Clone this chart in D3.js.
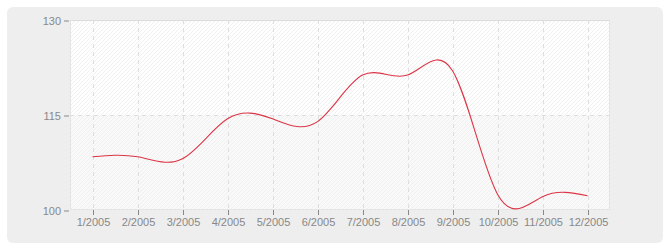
<!DOCTYPE html>
<html>
<head>
<meta charset="utf-8">
<script src="https://cdn.jsdelivr.net/npm/d3@7"></script>
<style>
    body { margin: 0; background: #fff; }
    .tick text { font-family: "Liberation Sans", Arial, sans-serif; font-size: 11px; }
</style>
</head>
<body>
<svg id="chart"></svg>
<script>
// months shown on the x axis
var months = ['1/2005', '2/2005', '3/2005', '4/2005', '5/2005', '6/2005',
    '7/2005', '8/2005', '9/2005', '10/2005', '11/2005', '12/2005'];

// monthly values
var values = [108.4, 108.4, 108.1, 114.4, 114.4, 113.95,
    121.3, 121.3, 122.0, 102.5, 102.1, 102.25];

// y axis ticks
var yTicks = [100, 115, 130];

var width = 670,
    height = 250;

var plot = { left: 70, right: 610, top: 20, bottom: 210 };

var svg = d3.select('#chart')
    .attr('width', width)
    .attr('height', height);

var defs = svg.append('defs');

// diagonal hatch used in the plot area
var hatch = defs.append('pattern')
    .attr('id', 'hatch')
    .attr('patternUnits', 'userSpaceOnUse')
    .attr('width', 4)
    .attr('height', 4);

hatch.append('path')
    .attr('d', 'M-1,1 l2,-2 M0,4 l4,-4 M3,5 l2,-2')
    .attr('stroke', '#f0f0f0')
    .attr('stroke-width', 1);

var x = d3.scalePoint()
    .domain(months)
    .range([plot.left, plot.right])
    .padding(0.5);

var y = d3.scaleLinear()
    .domain([yTicks[0], yTicks[yTicks.length - 1]])
    .range([plot.bottom, plot.top]);

// outer background
svg.append('rect')
    .attr('x', 7)
    .attr('y', 7)
    .attr('width', 656)
    .attr('height', 236)
    .attr('rx', 6)
    .attr('fill', '#eeeeee');

// plot background, alternate bands
svg.append('rect')
    .attr('x', plot.left)
    .attr('y', plot.top)
    .attr('width', plot.right - plot.left)
    .attr('height', plot.bottom - plot.top)
    .attr('fill', '#ffffff');

svg.append('rect')
    .attr('x', plot.left)
    .attr('y', y(yTicks[1]))
    .attr('width', plot.right - plot.left)
    .attr('height', y(yTicks[0]) - y(yTicks[1]))
    .attr('fill', '#f9f9f9');

svg.append('rect')
    .attr('x', plot.left)
    .attr('y', plot.top)
    .attr('width', plot.right - plot.left)
    .attr('height', plot.bottom - plot.top)
    .attr('fill', 'url(#hatch)');

// plot border
svg.append('rect')
    .attr('x', plot.left + 0.5)
    .attr('y', plot.top + 0.5)
    .attr('width', plot.right - plot.left - 1)
    .attr('height', plot.bottom - plot.top - 1)
    .attr('fill', 'none')
    .attr('stroke', '#e4e4e4');

svg.append('line')
    .attr('x1', plot.left)
    .attr('x2', plot.right)
    .attr('y1', plot.top + 0.5)
    .attr('y2', plot.top + 0.5)
    .attr('stroke', '#dcdcdc');

// dashed grid
var grid = svg.append('g')
    .attr('stroke', '#dedede')
    .attr('stroke-dasharray', '4,4');

months.forEach(function (m) {
    grid.append('line')
        .attr('x1', Math.round(x(m)) + 0.5)
        .attr('x2', Math.round(x(m)) + 0.5)
        .attr('y1', plot.top)
        .attr('y2', plot.bottom);
});

yTicks.slice(1, -1).forEach(function (t) {
    grid.append('line')
        .attr('x1', plot.left)
        .attr('x2', plot.right)
        .attr('y1', Math.round(y(t)) + 0.5)
        .attr('y2', Math.round(y(t)) + 0.5);
});

// axes
var yAxis = svg.append('g')
    .attr('color', '#888888')
    .attr('transform', 'translate(' + (plot.left - 1) + ',0.5)')
    .call(d3.axisLeft(y).tickValues(yTicks).tickSize(5).tickPadding(3));

var xAxis = svg.append('g')
    .attr('color', '#888888')
    .attr('transform', 'translate(0.5,' + plot.bottom + ')')
    .call(d3.axisBottom(x).tickSize(5).tickPadding(3));

yAxis.select('.domain').remove();
xAxis.select('.domain').remove();

// the series
var line = d3.line()
    .x(function (d, i) { return x(months[i]); })
    .y(function (d) { return y(d); })
    .curve(d3.curveNatural);

svg.append('path')
    .datum(values)
    .attr('d', line)
    .attr('fill', 'none')
    .attr('stroke', '#dc3545')
    .attr('stroke-width', 1.1);
</script>
</body>
</html>
